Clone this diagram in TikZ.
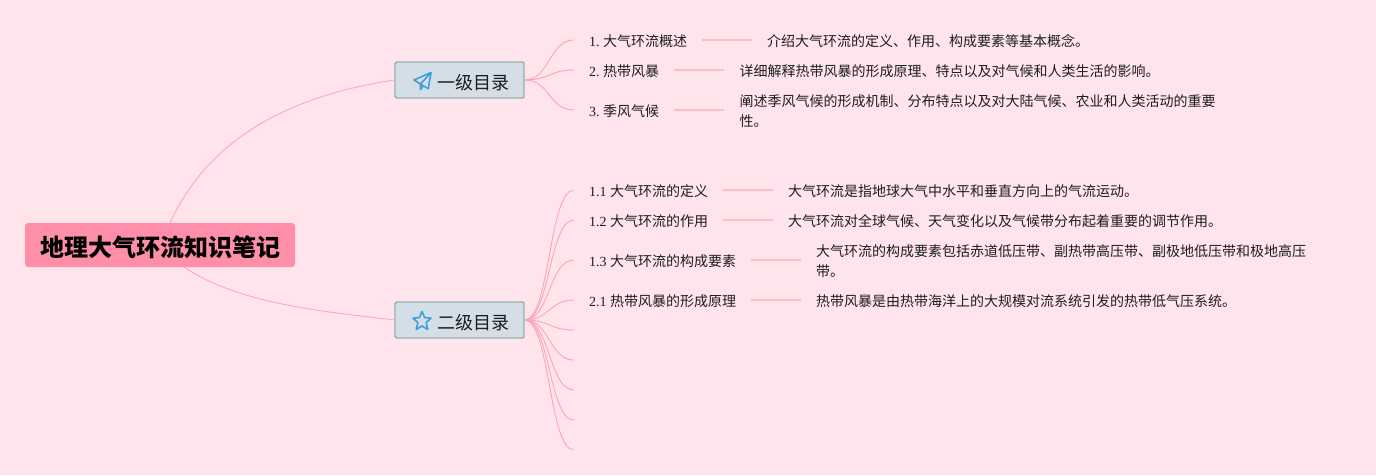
\documentclass[tikz,border=0pt]{standalone}
\usepackage{fontspec}
\setmainfont{Liberation Serif}
\newfontfamily\cjk{Noto Sans CJK SC}
\definecolor{bgpink}{HTML}{FFE4EC}
\definecolor{rootpink}{HTML}{FF8FA8}
\definecolor{edgepink}{HTML}{FFA0BC}
\definecolor{leadpink}{HTML}{FFB8CC}
\definecolor{boxfill}{HTML}{D3DEE7}
\definecolor{boxline}{HTML}{97B2B2}
\definecolor{iconblue}{HTML}{3D9FDB}
\definecolor{ink}{HTML}{1E1E1E}
\tikzset{
  rootbox/.style={fill=rootpink,rounded corners=3pt,minimum width=270pt,minimum height=44pt,inner sep=0pt,text=black,font=\cjk\bfseries\fontsize{24}{28}\selectfont},
  levelbox/.style={fill=boxfill,draw=boxline,line width=1.4pt,rounded corners=2pt,minimum width=129pt,minimum height=36pt,inner sep=0pt,text=ink,font=\cjk\fontsize{18}{22}\selectfont},
  itemtext/.style={inner xsep=15pt,inner ysep=0pt,anchor=west,text=ink,align=left,font=\fontsize{14}{20}\selectfont},
  branch/.style={draw=edgepink,line width=0.9pt},
  trunk/.style={draw=edgepink,line width=0.8pt},
  leader/.style={draw=leadpink,line width=1.6pt},
  iconline/.style={draw=iconblue,line width=1.6pt,line join=round,fill=none}
}
\begin{document}
\begin{tikzpicture}[x=1pt,y=-1pt]
\path[use as bounding box,fill=bgpink] (0,0) rectangle (1376,475);

\node[rootbox] (root) at (160,245) {\raisebox{-11pt}[0pt][0pt]{\hspace*{1pt}地理大气环流知识笔记}};
\node[levelbox] (one) at (459.5,80) {\raisebox{-9pt}[0pt][0pt]{\hspace*{27pt}一级目录}};
\node[levelbox] (two) at (459.5,320) {\raisebox{-9pt}[0pt][0pt]{\hspace*{27pt}二级目录}};

% icons
\draw[iconline] (414,80) -- (431,72.5) -- (428.3,88.8) -- (420.5,84) -- cycle;
\draw[iconline] (431,72.5) -- (420.5,84) -- (420.5,89.5) -- (423.5,85.8);
\draw[iconline] (422,311.5) -- (424.6,317.5) -- (431,318.2) -- (426.2,322.5) -- (427.7,329.5) -- (422,325.9) -- (416.3,329.5) -- (417.8,322.5) -- (413,318.2) -- (419.4,317.5) -- cycle;

% first group
\node[itemtext] (a1) at (574,41) {1.\hspace{3.4pt}{\cjk 大气环流概述}};
\node[itemtext] (a2) at (574,71) {2.\hspace{3.4pt}{\cjk 热带风暴}};
\node[itemtext] (a3) at (574,111) {3.\hspace{3.4pt}{\cjk 季风气候}};
\node[itemtext] (d1) at (752,41) {\cjk 介绍大气环流的定义、作用、构成要素等基本概念。};
\node[itemtext] (d2) at (724.4,71) {\cjk 详细解释热带风暴的形成原理、特点以及对气候和人类生活的影响。};
\node[itemtext] (d3) at (724.4,111) {\cjk 阐述季风气候的形成机制、分布特点以及对大陆气候、农业和人类活动的重要\\\cjk 性。};

% second group
\node[itemtext] (b1) at (574,191) {1.1 {\cjk 大气环流的定义}};
\node[itemtext] (b2) at (574,221) {1.2 {\cjk 大气环流的作用}};
\node[itemtext] (b3) at (574,261) {1.3 {\cjk 大气环流的构成要素}};
\node[itemtext] (b4) at (574,301) {2.1 {\cjk 热带风暴的形成原理}};
\node[itemtext] (e1) at (773,191) {\cjk 大气环流是指地球大气中水平和垂直方向上的气流运动。};
\node[itemtext] (e2) at (773,221) {\cjk 大气环流对全球气候、天气变化以及气候带分布起着重要的调节作用。};
\node[itemtext] (e3) at (801,261) {\cjk 大气环流的构成要素包括赤道低压带、副热带高压带、副极地低压带和极地高压\\\cjk 带。};
\node[itemtext] (e4) at (801,301) {\cjk 热带风暴是由热带海洋上的大规模对流系统引发的热带低气压系统。};

% trunks
\coordinate (roottop) at (170,223);
\coordinate (rootbot) at (184,267);
\draw[trunk] (roottop) .. controls (210,135) and (295,95) .. (one.west);
\draw[trunk] (rootbot) .. controls (240,305) and (330,312) .. (two.west);

% branches
\foreach \yy in {40,70,110}{
  \coordinate (end) at (574,\yy);
  \draw[branch] (one.east) .. controls +(25,0) and +(-25,0) .. (end);
}
\foreach \yy in {190,220,260,300,330,360,390,420,450}{
  \coordinate (end) at (574,\yy);
  \draw[branch] (two.east) .. controls +(25,0) and +(-25,0) .. (end);
}

% leaders
\foreach \p/\q/\yy in {a1/d1/40,a2/d2/70,a3/d3/110,b1/e1/190,b2/e2/220,b3/e3/260,b4/e4/300}{
  \draw[leader] (\p.east |- 0,\yy) -- (\q.west |- 0,\yy);
}
\end{tikzpicture}
\end{document}
